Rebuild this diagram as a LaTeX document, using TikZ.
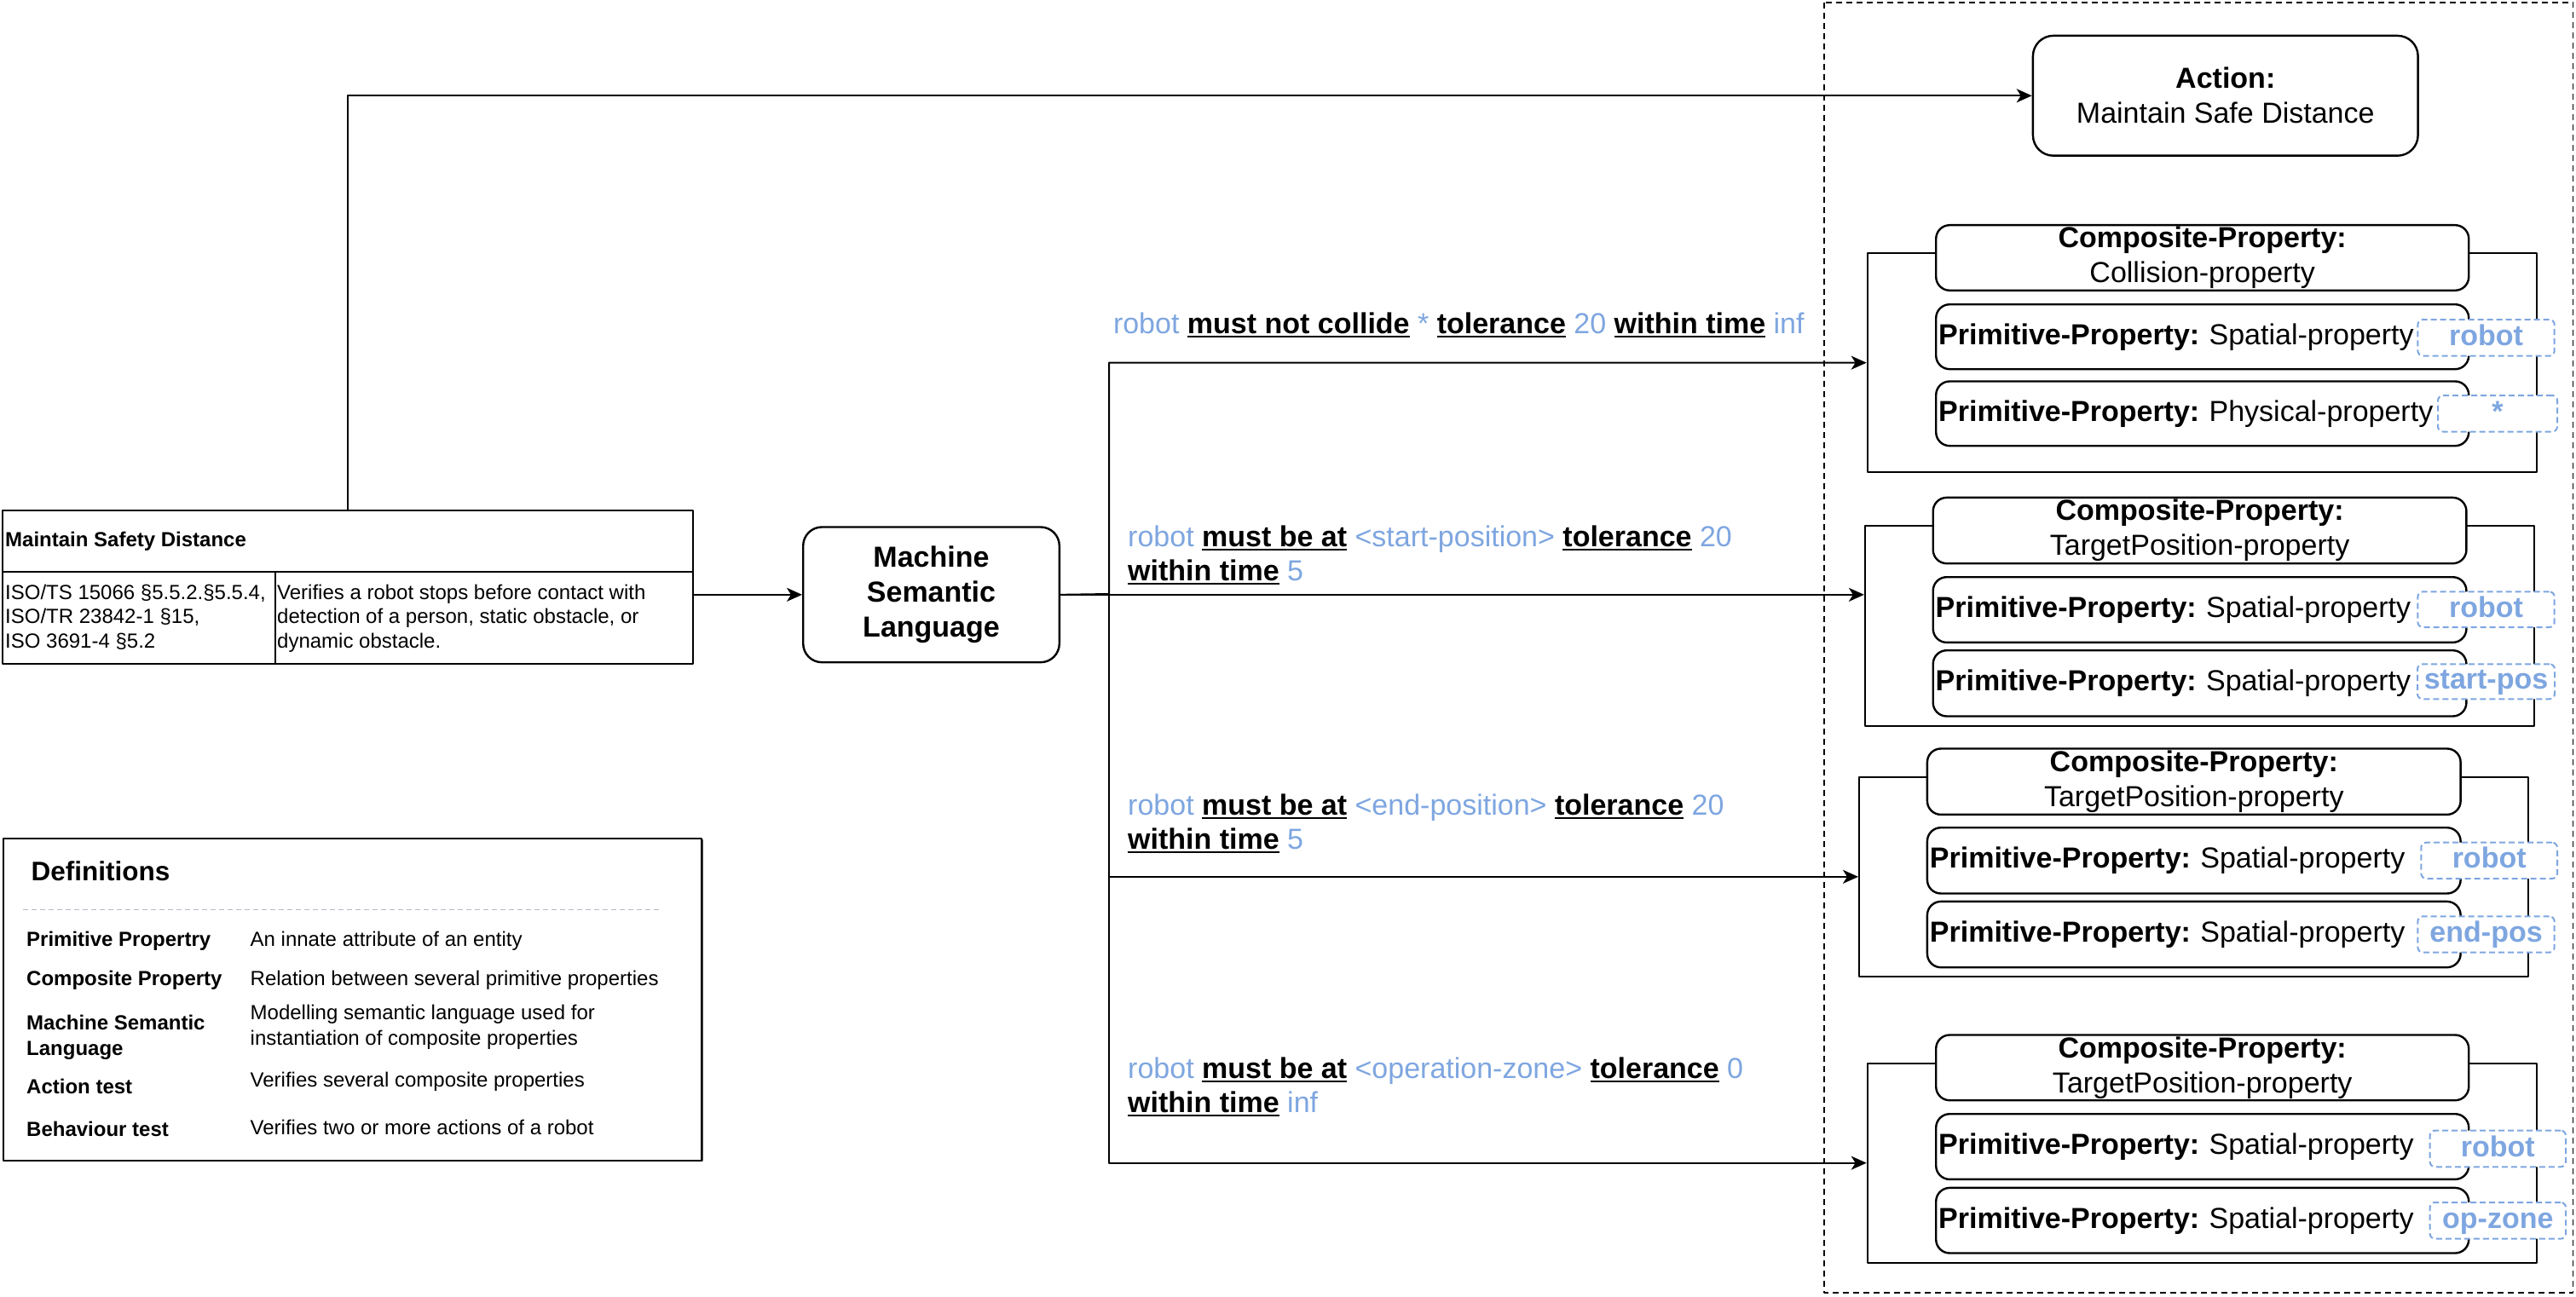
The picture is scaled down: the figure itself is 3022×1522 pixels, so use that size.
\documentclass[tikz,border=0pt]{standalone}
\usepackage{fontspec}
\setmainfont{Liberation Sans}
\usetikzlibrary{arrows.meta}
\definecolor{tagblue}{HTML}{7EA6E0}
\definecolor{rulegray}{HTML}{B4BCC8}
% bold, underlined keyword of the semantic language
\newcommand\kwd[1]{\leavevmode\setbox0\hbox{\bfseries #1}\rlap{\rule[-4.5pt]{\wd0}{2pt}}\box0\relax}
% value / argument of the semantic language
\newcommand\argv[1]{\textcolor{tagblue}{#1}}
\newcommand\bigsize{\fontsize{34}{41}\selectfont}
\newcommand\smallsize{\fontsize{24}{28.5}\selectfont}
\frenchspacing
\begin{document}
\frenchspacing
\begin{tikzpicture}[x=1pt,y=-1pt,line join=round]
\tikzset{
  lbl/.style={font=\fontsize{34}{40}\selectfont, inner sep=0pt, align=left, anchor=base west},
  rbox/.style={draw, line width=2.4pt, fill=white, rounded corners=16pt, inner sep=0pt,
               anchor=north west, font=\bigsize, align=center},
  prim/.style={rbox, text width=#1, align=left, inner xsep=3pt, text height=25pt, text depth=7pt},
  group/.style={draw, line width=2pt, inner sep=0pt, anchor=north west},
  tag/.style={draw=tagblue, dash pattern=on 7pt off 4pt, line width=2pt, rounded corners=6pt,
              fill=white, text=tagblue, font=\bigsize\bfseries, inner sep=0pt, anchor=north west,
              text height=25pt, text depth=7pt},
  plain/.style={draw, line width=2pt, inner sep=0pt, anchor=north west},
  txt/.style={inner sep=0pt, anchor=base west, align=left, font=\smallsize},
  arr/.style={line width=2pt, -{Stealth[length=18pt,width=16pt,inset=5pt]}},
}
\useasboundingbox (0,0) rectangle (3022,1522);

% ---------- requirement table ----------
\node[plain, minimum width=809.6pt, minimum height=180.6pt] (tbl) at (2.4,597.7) {};
\draw[line width=2pt] (2.4,670.7) -- (812,670.7);
\draw[line width=2pt] (323,670.7) -- (323,778.3);
\node[txt, font=\smallsize\bfseries] (tblhead) at (6,641.7) {Maintain Safety Distance};
% multi-line texts: the base anchor sits on the last line
\node[txt] (tblstd) at (6,760) {ISO/TS 15066 §5.5.2.§5.5.4,\\ISO/TR 23842-1 §15,\\ISO 3691-4 §5.2};
\node[txt] (tbldesc) at (325,760) {Verifies a robot stops before contact with\\detection of a person, static obstacle, or\\dynamic obstacle.};

% ---------- machine semantic language ----------
\node[rbox, rounded corners=22pt, minimum width=300.6pt, minimum height=158.7pt, font=\bigsize\bfseries]
  (msl) at (941,617.3) {Machine\\Semantic\\Language};

% ---------- definitions ----------
\draw[black!70, line width=2pt] (823.5,985) -- (823.5,1362.4) -- (5,1362.4);
\node[plain, minimum width=819.3pt, minimum height=378pt] (defs) at (2.7,982.7) {};
\node[txt, font=\fontsize{31.5}{36}\selectfont\bfseries] (deftitle) at (36.4,1033.3) {Definitions};
\draw[rulegray, line width=1.5pt, dash pattern=on 6pt off 4pt] (26.8,1067.3) -- (776.6,1067.3);
\node[txt, font=\smallsize\bfseries] (t1) at (31,1110) {Primitive Propertry};
\node[txt] (d1) at (293.5,1110) {An innate attribute of an entity};
\node[txt, font=\smallsize\bfseries] (t2) at (31,1156.7) {Composite Property};
\node[txt] (d2) at (293.5,1156.7) {Relation between several primitive properties};
\node[txt, font=\fontsize{24}{30}\selectfont\bfseries] (t3) at (31,1238.3) {Machine Semantic\\Language};
\node[txt, font=\fontsize{24}{29.3}\selectfont] (d3) at (293.5,1226) {Modelling semantic language used for\\instantiation of composite properties};
\node[txt, font=\smallsize\bfseries] (t4) at (31,1283.3) {Action test};
\node[txt] (d4) at (293.5,1275) {Verifies several composite properties};
\node[txt, font=\smallsize\bfseries] (t5) at (31,1333.3) {Behaviour test};
\node[txt] (d5) at (293.5,1331) {Verifies two or more actions of a robot};

% ---------- action test frame ----------
\draw[line width=1.8pt, dash pattern=on 7pt off 5pt] (2140,3) rectangle (3018.5,1517);
\node[rbox, rounded corners=24pt, minimum width=451.7pt, minimum height=140.8pt]
  (act) at (2383.7,40.7) {\textbf{Action:}\\Maintain Safe Distance};

% composite property 1
\node[group, minimum width=785.6pt, minimum height=256.7pt] (g1) at (2189.7,296.3) {};
\node[rbox, minimum width=625pt, minimum height=76.6pt] (c1) at (2270,263) {\textbf{Composite-Property:}\\Collision-property};
\node[prim=619pt, minimum height=76pt] (p11) at (2270,356) {\textbf{Primitive-Property:} Spatial-property};
\node[prim=619pt, minimum height=75.7pt] (p12) at (2270,446.3) {\textbf{Primitive-Property:} Physical-property};
\node[tag, minimum width=160.3pt, minimum height=42.7pt] (k11) at (2835.4,374) {robot};
\node[tag, minimum width=140pt, minimum height=42.6pt] (k12) at (2859,463) {*};

% composite property 2
\node[group, minimum width=785pt, minimum height=234.7pt] (g2) at (2186.9,616) {};
\node[rbox, minimum width=625.7pt, minimum height=77.3pt] (c2) at (2266.5,582.7) {\textbf{Composite-Property:}\\TargetPosition-property};
\node[prim=619.7pt, minimum height=76.7pt] (p21) at (2266.5,676) {\textbf{Primitive-Property:} Spatial-property};
\node[prim=619.7pt, minimum height=77.3pt] (p22) at (2266.5,762) {\textbf{Primitive-Property:} Spatial-property};
\node[tag, minimum width=160.3pt, minimum height=41.7pt] (k21) at (2835.4,693.3) {robot};
\node[tag, minimum width=161pt, minimum height=41pt] (k22) at (2835,778.3) {start-pos};

% composite property 3
\node[group, minimum width=785pt, minimum height=234.3pt] (g3) at (2180,910.7) {};
\node[rbox, minimum width=625.7pt, minimum height=77.4pt] (c3) at (2259.7,877.3) {\textbf{Composite-Property:}\\TargetPosition-property};
\node[prim=619.7pt, minimum height=77.3pt] (p31) at (2259.7,970) {\textbf{Primitive-Property:} Spatial-property};
\node[prim=619.7pt, minimum height=77.3pt] (p32) at (2259.7,1056.7) {\textbf{Primitive-Property:} Spatial-property};
\node[tag, minimum width=159.7pt, minimum height=42.3pt] (k31) at (2839.3,987.7) {robot};
\node[tag, minimum width=160.3pt, minimum height=42.4pt] (k32) at (2835.4,1074.3) {end-pos};

% composite property 4
\node[group, minimum width=785.6pt, minimum height=234pt] (g4) at (2189.7,1246.7) {};
\node[rbox, minimum width=625pt, minimum height=76.7pt] (c4) at (2270,1213.3) {\textbf{Composite-Property:}\\TargetPosition-property};
\node[prim=619pt, minimum height=76.7pt] (p41) at (2270,1306) {\textbf{Primitive-Property:} Spatial-property};
\node[prim=619pt, minimum height=76.6pt] (p42) at (2270,1392.7) {\textbf{Primitive-Property:} Spatial-property};
\node[tag, minimum width=159.4pt, minimum height=42.6pt] (k41) at (2849.6,1325.7) {robot};
\node[tag, minimum width=159.4pt, minimum height=42.7pt] (k42) at (2849.6,1410) {op-zone};

% ---------- connectors ----------
\draw[arr] (tbl.north) |- (act.west);
\draw[arr] (tbl.east |- msl.west) -- (msl.west);
\coordinate (fork) at (1301,697);
\draw[arr] (msl.east) -- (fork) |- (g1.west);
\draw[arr] (msl.east) -- (msl.east -| g2.west);
\draw[arr] (fork) |- (g3.west);
\draw[arr] (fork) |- (g4.west);

% ---------- statements of the semantic language ----------
\node[lbl] (s1) at (1305.8,391.7) {\argv{robot} \kwd{must not collide} \argv{*} \kwd{tolerance} \argv{20} \kwd{within time} \argv{inf}};
\node[lbl] (s2) at (1323,681.7) {\argv{robot} \kwd{must be at} \argv{<start-position>} \kwd{tolerance} \argv{20}\\\kwd{within time} \argv{5}};
\node[lbl] (s3) at (1323,996.7) {\argv{robot} \kwd{must be at} \argv{<end-position>} \kwd{tolerance} \argv{20}\\\kwd{within time} \argv{5}};
\node[lbl] (s4) at (1323,1305) {\argv{robot} \kwd{must be at} \argv{<operation-zone>} \kwd{tolerance} \argv{0}\\\kwd{within time} \argv{inf}};
\end{tikzpicture}
\end{document}
